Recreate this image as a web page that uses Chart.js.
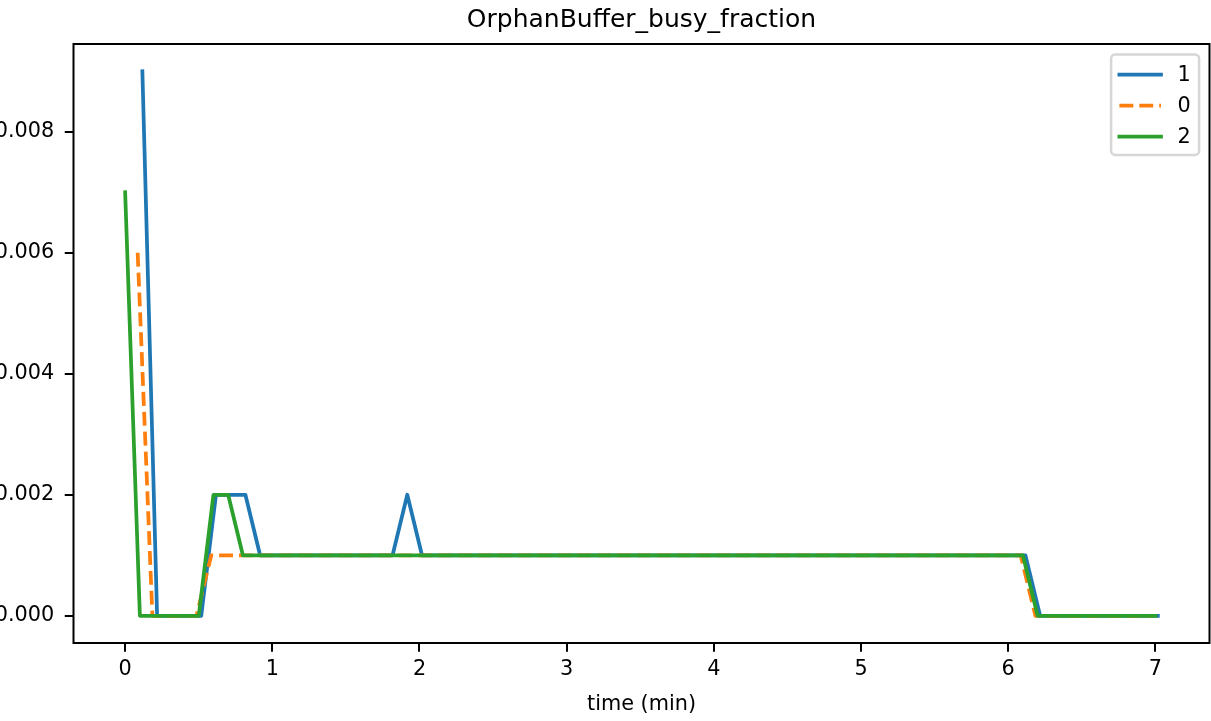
<!DOCTYPE html>
<html>
<head>
<meta charset="utf-8">
<title>OrphanBuffer_busy_fraction</title>
<script src="https://cdn.jsdelivr.net/npm/chart.js@4.4.0/dist/chart.umd.min.js"></script>
<style>
    body { margin: 0; background: #ffffff; }
    #caixa { width: 1211px; height: 721px; }
</style>
</head>
<body>
<div id="caixa"><canvas id="grafico" width="1211" height="721"></canvas></div>
<script>
// serie "1" (tempo em minutos, fracao ocupada)
var tempo1 = [0.117, 0.217, 0.517, 0.617, 0.817, 0.917, 1.817, 1.917, 2.017, 6.117, 6.217, 7.017]
var valores1 = [0.009, 0, 0, 0.002, 0.002, 0.001, 0.001, 0.002, 0.001, 0.001, 0, 0]

// serie "0"
var tempo0 = [0.085, 0.185, 0.485, 0.585, 6.085, 6.185, 6.985]
var valores0 = [0.006, 0, 0, 0.001, 0.001, 0, 0]

// serie "2"
var tempo2 = [0, 0.1, 0.5, 0.6, 0.7, 0.8, 6.1, 6.2, 7.0]
var valores2 = [0.007, 0, 0, 0.002, 0.002, 0.001, 0.001, 0, 0]

var ticksX = [0, 1, 2, 3, 4, 5, 6, 7]
var ticksY = [0, 0.002, 0.004, 0.006, 0.008]

function pontos(tempos, valores) {
    return tempos.map((t, i) => ({ x: t, y: valores[i] }))
}

Chart.defaults.font.family = '"DejaVu Sans", sans-serif'
Chart.defaults.color = '#000000'

const fonte = 20.8
const largTick = 2
const largLinha = 3.75

// moldura dos eixos (4 lados) + legenda no canto superior direito
const moldura = {
    id: 'moldura',
    afterDraw(chart) {
        const ctx = chart.ctx
        const a = chart.chartArea
        ctx.save()
        ctx.strokeStyle = '#000000'
        ctx.lineWidth = largTick
        ctx.strokeRect(a.left, a.top, a.right - a.left, a.bottom - a.top)

        // legenda
        const direita = a.right - 10.4
        const topo = a.top + 10.4
        const larg = 88
        const alt = 100.5
        const esq = direita - larg
        ctx.beginPath()
        ctx.roundRect(esq, topo, larg, alt, 4)
        ctx.fillStyle = 'rgba(255,255,255,0.8)'
        ctx.fill()
        ctx.strokeStyle = 'rgba(204,204,204,0.8)'
        ctx.lineWidth = 2.5
        ctx.stroke()

        ctx.font = fonte + 'px "DejaVu Sans"'
        ctx.textBaseline = 'middle'
        ctx.textAlign = 'left'
        chart.data.datasets.forEach((ds, i) => {
            const y = topo + 8.3 + 12 + i * 31
            ctx.beginPath()
            ctx.setLineDash(ds.borderDash || [])
            ctx.lineCap = ds.borderCapStyle
            ctx.strokeStyle = ds.borderColor
            ctx.lineWidth = ds.borderWidth
            ctx.moveTo(esq + 8.3, y)
            ctx.lineTo(esq + 8.3 + 41.6, y)
            ctx.stroke()
            ctx.setLineDash([])
            ctx.fillStyle = '#000000'
            ctx.fillText(ds.label, esq + 8.3 + 41.6 + 16.6, y + 1)
        })
        ctx.restore()
    }
}

const ctx1 = document.getElementById('grafico').getContext('2d')

new Chart(ctx1, {
    type: 'line',
    data: {
        datasets: [{
            label: '1',
            data: pontos(tempo1, valores1),
            borderColor: '#1f77b4',
            borderWidth: largLinha,
            borderCapStyle: 'square',
            borderJoinStyle: 'round',
            order: 3
        }, {
            label: '0',
            data: pontos(tempo0, valores0),
            borderColor: '#ff7f0e',
            borderWidth: largLinha,
            borderDash: [13.9, 6],
            borderCapStyle: 'butt',
            borderJoinStyle: 'round',
            order: 2
        }, {
            label: '2',
            data: pontos(tempo2, valores2),
            borderColor: '#2ca02c',
            borderWidth: largLinha,
            borderCapStyle: 'square',
            borderJoinStyle: 'round',
            order: 1
        }]
    },
    options: {
        responsive: false,
        animation: false,
        parsing: false,
        elements: { point: { radius: 0 }, line: { tension: 0, fill: false } },
        layout: { padding: { left: 0, right: 1.5, top: 0, bottom: 0 } },
        plugins: {
            legend: { display: false },
            tooltip: { enabled: false },
            title: {
                display: true,
                text: 'OrphanBuffer_busy_fraction',
                fullSize: false,
                color: '#000000',
                font: { size: 25, weight: 'normal', lineHeight: 1.2 },
                padding: { top: 5.4, bottom: 8.6 }
            }
        },
        scales: {
            x: {
                type: 'linear',
                min: -0.351,
                max: 7.368,
                afterFit: function (scale) { scale.height = 78 },
                afterBuildTicks: function (scale) {
                    scale.ticks = ticksX.map(v => ({ value: v }))
                },
                border: { display: false },
                grid: {
                    drawOnChartArea: false,
                    drawTicks: true,
                    tickLength: 8.75,
                    tickWidth: largTick,
                    tickColor: '#000000',
                    color: '#000000',
                    lineWidth: largTick
                },
                ticks: {
                    padding: 5.5,
                    maxRotation: 0,
                    autoSkip: false,
                    color: '#000000',
                    font: { size: fonte },
                    callback: v => String(v)
                },
                title: {
                    display: true,
                    text: 'time (min)',
                    color: '#000000',
                    font: { size: fonte },
                    padding: { top: 0, bottom: 4 }
                }
            },
            y: {
                type: 'linear',
                min: -0.00045,
                max: 0.00945,
                afterFit: function (scale) { scale.width = 73.5 },
                afterBuildTicks: function (scale) {
                    scale.ticks = ticksY.map(v => ({ value: v }))
                },
                border: { display: false },
                grid: {
                    drawOnChartArea: false,
                    drawTicks: true,
                    tickLength: 8.75,
                    tickWidth: largTick,
                    tickColor: '#000000',
                    color: '#000000',
                    lineWidth: largTick
                },
                ticks: {
                    padding: 10.5,
                    color: '#000000',
                    font: { size: fonte },
                    callback: v => Number(v).toFixed(3)
                }
            }
        }
    },
    plugins: [moldura]
})
</script>
</body>
</html>
